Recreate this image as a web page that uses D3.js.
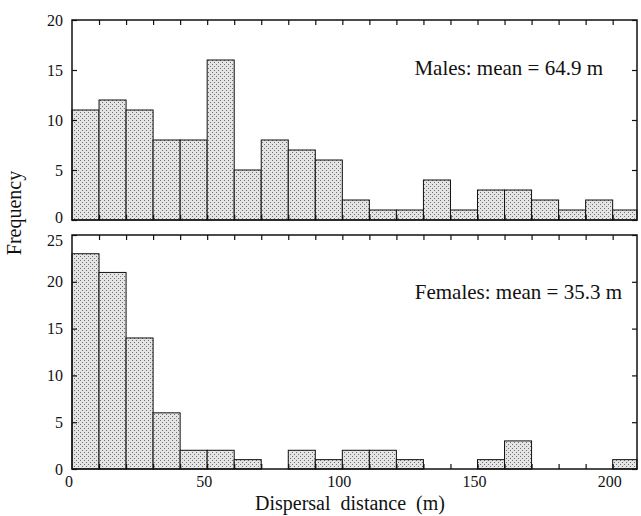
<!DOCTYPE html>
<html>
<head>
<meta charset="utf-8">
<script src="https://cdn.jsdelivr.net/npm/d3@7"></script>
<style>
  body { margin: 0; background: #fff; }
  text { font-family: "Liberation Serif", "Times New Roman", serif; fill: #111; }
</style>
</head>
<body>
<div id="chart"></div>
<script>
// bin starts (m), each bin is 10 m wide
var bins = d3.range(0, 210, 10);
var males = [11, 12, 11, 8, 8, 16, 5, 8, 7, 6, 2, 1, 1, 4, 1, 3, 3, 2, 1, 2, 1];
var females = [23, 21, 14, 6, 2, 2, 1, 0, 2, 1, 2, 2, 1, 0, 0, 1, 3, 0, 0, 0, 1];
var xTickLabels = [0, 50, 100, 150, 200];
var maleTicks = [0, 5, 10, 15, 20];
var femaleTicks = [0, 5, 10, 15, 20, 25];

var width = 641,
    height = 516,
    left = 72,
    right = 637;

var svg = d3.select("#chart").append("svg")
    .attr("width", width)
    .attr("height", height);

// stipple fill like the printed figure
var defs = svg.append("defs");
var pat = defs.append("pattern")
    .attr("id", "stipple")
    .attr("patternUnits", "userSpaceOnUse")
    .attr("width", 4)
    .attr("height", 4);
pat.append("rect").attr("width", 4).attr("height", 4).attr("fill", "#e4e4e4");
pat.append("rect").attr("x", 0).attr("y", 0).attr("width", 1).attr("height", 1).attr("fill", "#707070");
pat.append("rect").attr("x", 2).attr("y", 2).attr("width", 1).attr("height", 1).attr("fill", "#707070");

var x = d3.scaleLinear()
    .domain([0, 209])
    .range([left, right]);

function panel(values, top, bottom, yMax, ticks, label, labelX, labelY, edgeShift) {
  var y = d3.scaleLinear()
      .domain([0, yMax])
      .range([bottom, top]);
  var g = svg.append("g");

  // bars
  g.selectAll("rect.bar")
    .data(bins)
    .enter()
    .append("rect")
    .attr("class", "bar")
    .attr("x", function(d) { return x(d); })
    .attr("width", function(d) { return Math.min(x(d + 10), right) - x(d); })
    .attr("y", function(d, i) { return y(values[i]); })
    .attr("height", function(d, i) { return bottom - y(values[i]); })
    .attr("fill", "url(#stipple)")
    .attr("stroke", "#111")
    .attr("stroke-width", 1);

  // inward ticks on all four sides
  var xt = d3.range(10, 210, 10);
  g.append("g")
    .attr("transform", "translate(0," + top + ")")
    .call(d3.axisBottom(x).tickValues(xt).tickSize(5).tickFormat(""))
    .call(function(a) { a.select(".domain").remove(); });
  g.append("g")
    .attr("transform", "translate(0," + bottom + ")")
    .call(d3.axisTop(x).tickValues(xt).tickSize(5).tickFormat(""))
    .call(function(a) { a.select(".domain").remove(); });
  g.append("g")
    .attr("transform", "translate(" + left + ",0)")
    .call(d3.axisRight(y).tickValues(ticks).tickSize(5).tickFormat(""))
    .call(function(a) { a.select(".domain").remove(); });
  g.append("g")
    .attr("transform", "translate(" + right + ",0)")
    .call(d3.axisLeft(y).tickValues(ticks).tickSize(5).tickFormat(""))
    .call(function(a) { a.select(".domain").remove(); });
  g.selectAll(".tick line").attr("stroke", "#111").attr("stroke-width", 1.2);

  // y tick labels (the two labels where the panels meet are nudged apart)
  g.selectAll("text.ylab")
    .data(ticks)
    .enter()
    .append("text")
    .attr("class", "ylab")
    .attr("x", left - 9)
    .attr("y", function(d) {
      if (edgeShift < 0 && d === 0) return y(d) + edgeShift;
      if (edgeShift > 0 && d === yMax) return y(d) + edgeShift;
      return y(d);
    })
    .attr("dy", "0.35em")
    .attr("text-anchor", "end")
    .style("font-size", "16px")
    .text(function(d) { return d; });

  // frame
  g.append("rect")
    .attr("x", left)
    .attr("y", top)
    .attr("width", right - left)
    .attr("height", bottom - top)
    .attr("fill", "none")
    .attr("stroke", "#111")
    .attr("stroke-width", 1.5);

  g.append("text")
    .attr("x", labelX)
    .attr("y", labelY)
    .attr("text-anchor", "end")
    .style("font-size", "21px")
    .text(label);

  return y;
}

panel(males, 20, 220, 20, maleTicks, "Males: mean = 64.9 m", 603, 75, -3);
panel(females, 235, 469, 25, femaleTicks, "Females: mean = 35.3 m", 622, 299, 5);

// x tick labels under bottom panel
svg.selectAll("text.xlab")
  .data(xTickLabels)
  .enter()
  .append("text")
  .attr("class", "xlab")
  .attr("x", function(d) { return x(d) - 3; })
  .attr("y", 487)
  .attr("text-anchor", "middle")
  .style("font-size", "16px")
  .text(function(d) { return d; });

svg.append("text")
  .attr("x", 350)
  .attr("y", 510)
  .attr("text-anchor", "middle")
  .style("font-size", "20px")
  .style("word-spacing", "5px")
  .text("Dispersal distance (m)");

svg.append("text")
  .attr("transform", "translate(21,213)rotate(-90)")
  .attr("text-anchor", "middle")
  .style("font-size", "20px")
  .text("Frequency");
</script>
</body>
</html>
